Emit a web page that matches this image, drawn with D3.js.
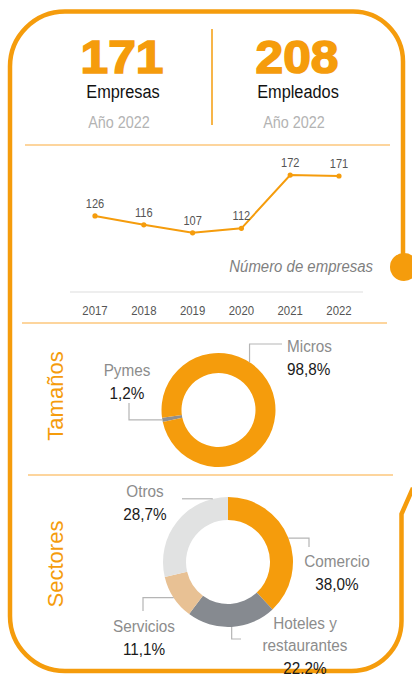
<!DOCTYPE html>
<meta charset="utf-8">
<script src="https://d3js.org/d3.v7.min.js"></script>
<style>
  body{ margin:0; background:#fff; }
  svg{ display:block; font-family:'Liberation Sans', Arial, sans-serif; }
</style>
<div id="chart"></div>
<script>
// ---- data ----
var kpiValues = [171, 208]
var kpiLabels = ["Empresas", "Empleados"]
var kpiYear = "Año 2022"

var years = ["2017", "2018", "2019", "2020", "2021", "2022"]
var empresas = [126, 116, 107, 112, 172, 171]

var tamanos = ["Pymes", "Micros"]
var tamanosPct = [1.2, 98.8]

var sectores = ["Comercio", "Hoteles y restaurantes", "Servicios", "Otros"]
var sectoresPct = [38.0, 22.2, 11.1, 28.7]

// ---- setup ----
var W = 412, H = 674
var orange = "#f59c0c"
var light = "#fcc77c"
var fmt = function(v){ return d3.format(".1f")(v).replace(".", ",") + "%" }

var svg = d3.select("#chart").append("svg").attr("width", W).attr("height", H)
svg.append("rect").attr("width", W).attr("height", H).attr("fill", "#fff")

// text helper, sx squeezes the glyphs horizontally like the original
function txt(g, x, y, s, o){
  o = o || {}
  return g.append("text")
    .attr("transform", "translate(" + x + "," + y + ") scale(" + (o.sx || 1) + ",1)")
    .attr("text-anchor", o.anchor || "middle")
    .attr("font-size", o.size || 12)
    .attr("font-weight", o.weight || "normal")
    .attr("font-style", o.style || "normal")
    .attr("fill", o.color || "#222")
    .text(s)
}

// ---- frame ----
svg.append("path")
  .attr("d", "M65,11.5 H353 A50,50 0 0 1 403,61.5 V255" +
             " M413,488 L401.5,514 V621 A50,50 0 0 1 351.5,671 H65 A55,55 0 0 1 10,616 V66.5 A55,55 0 0 1 65,11.5")
  .attr("fill", "none").attr("stroke", orange).attr("stroke-width", 4.5)
svg.append("circle").attr("cx", 404).attr("cy", 267).attr("r", 14).attr("fill", orange)

// separators
;[[25, 390, 145], [22, 387, 323], [28, 393, 475]].forEach(function(s){
  svg.append("line").attr("x1", s[0]).attr("x2", s[1]).attr("y1", s[2]).attr("y2", s[2])
    .attr("stroke", light).attr("stroke-width", 1.5)
})

// ---- KPI header ----
var kx = d3.scalePoint().domain(kpiLabels).range([122, 297])
svg.append("line").attr("x1", 212).attr("x2", 212).attr("y1", 29).attr("y2", 125)
  .attr("stroke", orange).attr("stroke-width", 1.5)
kpiLabels.forEach(function(k, i){
  var cx = kx(k)
  txt(svg, cx, 73, kpiValues[i], {size: 46, weight: "bold", color: orange, sx: 1.08})
    .attr("stroke", orange).attr("stroke-width", 1.6)
  txt(svg, cx + 1, 98, k, {size: 19, color: "#111", sx: 0.86})
  txt(svg, cx - 3, 128, kpiYear, {size: 16, color: "#b3b3b3", sx: 0.9})
})

// ---- line chart ----
var x = d3.scalePoint().domain(years).range([95, 339])
var y = d3.scaleLinear().domain([100, 180]).range([239, 168])
var lc = svg.append("g")

lc.append("line").attr("x1", 70).attr("x2", 363).attr("y1", 292).attr("y2", 292)
  .attr("stroke", "#e8e8e8").attr("stroke-width", 1.5)

lc.append("path")
  .datum(empresas)
  .attr("d", d3.line().x(function(d, i){ return x(years[i]) }).y(function(d){ return y(d) }))
  .attr("fill", "none").attr("stroke", orange).attr("stroke-width", 2)

empresas.forEach(function(v, i){
  lc.append("circle").attr("cx", x(years[i])).attr("cy", y(v)).attr("r", 2.6).attr("fill", orange)
  txt(lc, x(years[i]), y(v) - 8, v, {size: 13, color: "#555", sx: 0.85})
  txt(lc, x(years[i]), 315, years[i], {size: 12, color: "#555", sx: 0.95})
})
txt(lc, 373, 272, "Número de empresas", {size: 17, style: "italic", color: "#7f7f7f", anchor: "end", sx: 0.88})

// ---- section titles ----
function vtitle(s, cx, cy){
  svg.append("text")
    .attr("transform", "translate(" + cx + "," + cy + ") rotate(-90)")
    .attr("text-anchor", "middle").attr("dy", "0.35em")
    .attr("font-size", 22).attr("fill", orange).text(s)
}
vtitle("Tamaños", 55, 396)
vtitle("Sectores", 55, 564)

// ---- donut helper ----
var deg = Math.PI / 180
function donut(cfg){
  var g = svg.append("g").attr("transform", "translate(" + cfg.cx + "," + cfg.cy + ")")
  var pie = d3.pie().sort(null).value(function(d){ return d.v })
    .startAngle(cfg.start).endAngle(cfg.start + 2 * Math.PI)
  var arc = d3.arc().innerRadius(cfg.rIn).outerRadius(cfg.rOut)
  var arcs = pie(cfg.names.map(function(n, i){ return {n: n, v: cfg.values[i]} }))
  g.selectAll("path.slice").data(arcs).join("path")
    .attr("class", "slice")
    .attr("d", arc)
    .attr("fill", function(d, i){ return cfg.colors[i] })

  arcs.forEach(function(d, i){
    var L = cfg.labels[i]
    var a = L.angle != null ? L.angle * deg : (d.startAngle + d.endAngle) / 2
    var p0 = [cfg.cx + cfg.rOut * Math.sin(a), cfg.cy - cfg.rOut * Math.cos(a)]
    var pts = [p0].concat(L.path.map(function(p){
      return [p[0] == null ? p0[0] : p[0], p[1] == null ? p0[1] : p[1]]
    }))
    svg.append("path").attr("d", d3.line()(pts))
      .attr("fill", "none").attr("stroke", "#b5b5b5").attr("stroke-width", 1.2)
    var lines = L.lines || [d.data.n]
    lines.forEach(function(t, j){
      txt(svg, L.x, L.y + j * 22, t, {size: 17, color: "#8c8c8c", anchor: L.anchor || "middle", sx: 0.9})
    })
    txt(svg, L.x, L.y + lines.length * 22 + 1, fmt(d.data.v), {size: 17, color: "#1a1a1a", anchor: L.anchor || "middle", sx: 0.9})
  })
}

donut({
  cx: 218.5, cy: 410, rIn: 37, rOut: 57,
  names: tamanos, values: tamanosPct,
  start: (260 - 360 * tamanosPct[0] / 200) * deg,
  colors: ["#8f8f8f", orange],
  labels: [
    {x: 127, y: 376, path: [[129, null], [129, 403]]},
    {x: 287, y: 352, anchor: "start", angle: 33, path: [[null, 344], [282, 344]]}
  ]
})

donut({
  cx: 228, cy: 562, rIn: 42, rOut: 65,
  names: sectores, values: sectoresPct,
  start: 0,
  colors: [orange, "#868a90", "#e8c194", "#e1e2e2"],
  labels: [
    {x: 337, y: 567, path: [[309, null], [309, 547]]},
    {x: 305, y: 629, lines: ["Hoteles y", "restaurantes"], path: [[null, 639], [241, 639]]},
    {x: 144, y: 632, path: [[143, null], [143, 611]]},
    {x: 145, y: 497, angle: 346.5, path: [[182, null]]}
  ]
})
</script>
